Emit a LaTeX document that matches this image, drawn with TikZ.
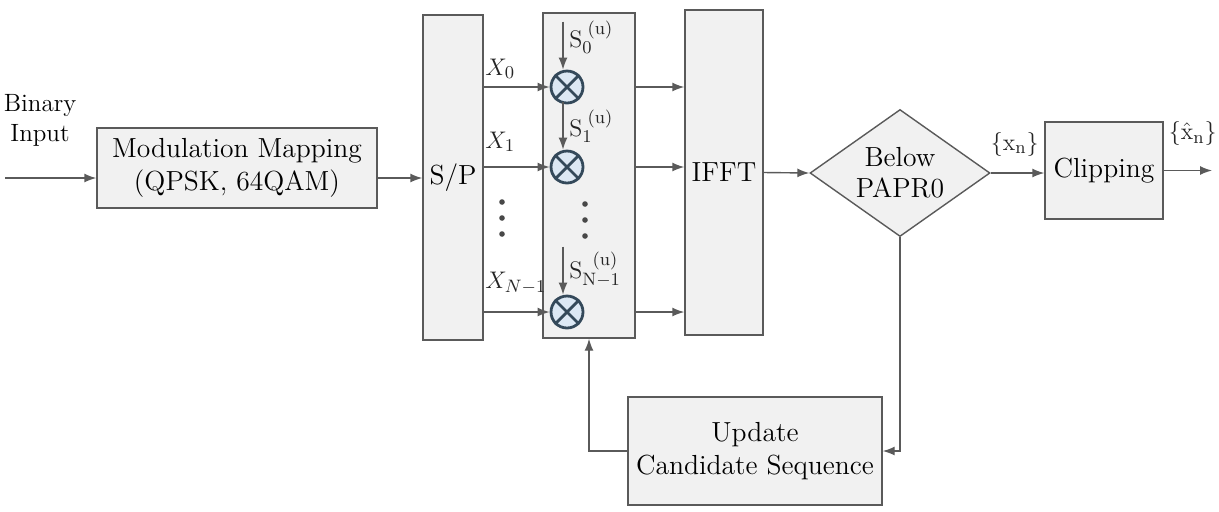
\documentclass[tikz,border=0pt]{standalone}
\usepackage{tikz}
\usetikzlibrary{arrows.meta,positioning,shapes.geometric,calc}
\definecolor{edge}{HTML}{5A5A5A}
\definecolor{boxfill}{HTML}{F1F1F1}
\definecolor{mulring}{HTML}{34495A}
\definecolor{mulfill}{HTML}{DCE8F4}
\tikzset{
  procbox/.style={
    rectangle, draw=edge, fill=boxfill, line width=0.7pt,
    font=\fontsize{13.8}{16.5}\selectfont, align=center,
    inner sep=2pt
  },
  decbox/.style={
    diamond, draw=edge, fill=boxfill, line width=0.7pt,
    minimum width=90pt, minimum height=63.5pt, inner sep=0pt, aspect=1.4,
    font=\fontsize{13.8}{15.5}\selectfont, align=center
  },
  mulnode/.style={
    circle, draw=mulring, fill=mulfill, line width=1.4pt,
    minimum size=16pt, inner sep=0pt
  },
  sigarrow/.style={
    -{Latex[length=6pt,width=4.5pt]}, line width=0.7pt, color=edge
  },
  siglabel/.style={font=\fontsize{12.5}{14}\selectfont, inner sep=0pt, text=black!85},
}
\begin{document}
\begin{tikzpicture}[x=0.5pt, y=-0.5pt]
  \useasboundingbox (0,0) rectangle (1219,511);
  \node[procbox, minimum width=140pt, minimum height=40pt] (mod) at (237,168) {Modulation Mapping\\(QPSK, 64QAM)};
  \node[font=\fontsize{12.5}{15}\selectfont, align=center] (bin) at (40,120) {Binary\\Input};
  \node[procbox, minimum width=30pt, minimum height=162.5pt] (sp) at (453,177.5) {S/P};
  \node[procbox, minimum width=46pt, minimum height=162.5pt] (mult) at (589,175.5) {};
  \node[procbox, minimum width=39pt, minimum height=162.5pt] (ifft) at (724,172.5) {IFFT};
  \node[decbox] (papr) at (900,173) {Below\\PAPR0};
  \node[procbox, minimum width=59pt, minimum height=48.5pt] (clip) at (1104,170.5) {Clipping};
  \node[procbox, minimum width=127pt, minimum height=54pt] (upd) at (755,451) {Update\\Candidate Sequence};
  \coordinate (in) at (5,178);
  \coordinate (out) at (1212,170.5);
  % multipliers
  \foreach \i/\y in {0/87,1/167,2/312}{
    \node[mulnode] (m\i) at (567,\y) {};
    \draw[mulring, line width=1.4pt] (m\i.north east) -- (m\i.south west) (m\i.north west) -- (m\i.south east);
    \coordinate (s\i) at ([xshift=-2pt, yshift=24pt]m\i.north);
    \draw[sigarrow] (s\i) -- ([xshift=-2pt]m\i.north);
    \draw[sigarrow] (sp.east |- m\i) -- (m\i);
    \draw[sigarrow] (m\i -| mult.east) -- (m\i -| ifft.west);
  }
  \node[siglabel, anchor=base west] (xl0) at (485,75) {$X_0$};
  \node[siglabel, anchor=base west] (xl1) at (485,148) {$X_1$};
  \node[siglabel, anchor=base west] (xl2) at (485,288) {$X_{N-1}$};
  \node[siglabel, anchor=base west] (sl0) at (569,47) {$\mathrm{S}_0^{\;(\mathrm{u})}$};
  \node[siglabel, anchor=base west] (sl1) at (569,136) {$\mathrm{S}_1^{\;(\mathrm{u})}$};
  \node[siglabel, anchor=base west] (sl2) at (569,278) {$\mathrm{S}_{\mathrm{N}-1}^{\;\;(\mathrm{u})}$};
  \foreach \y in {202,218,234}{
    \fill[edge!80!black] (502,\y) circle (1.4pt);
    \fill[edge!80!black] (585,\y+2) circle (1.4pt);
  }
  \draw[sigarrow] (in) -- (in -| mod.west);
  \draw[sigarrow] (mod.east |- in) -- (in -| sp.west);
  \draw[sigarrow] (ifft.east) -- (papr.west);
  \draw[sigarrow] (papr.east) -- (papr.east -| clip.west) node[siglabel, pos=0.45, above=8pt] (xn) {$\{\mathrm{x}_\mathrm{n}\}$};
  \draw[sigarrow] (clip.east) -- (out) node[siglabel, pos=0.6, above=12pt] (xh) {$\{\hat{\mathrm{x}}_\mathrm{n}\}$};
  \draw[sigarrow] (papr.south) |- (upd.east);
  \draw[sigarrow] (upd.west) -| (mult.south);
\end{tikzpicture}
\end{document}
